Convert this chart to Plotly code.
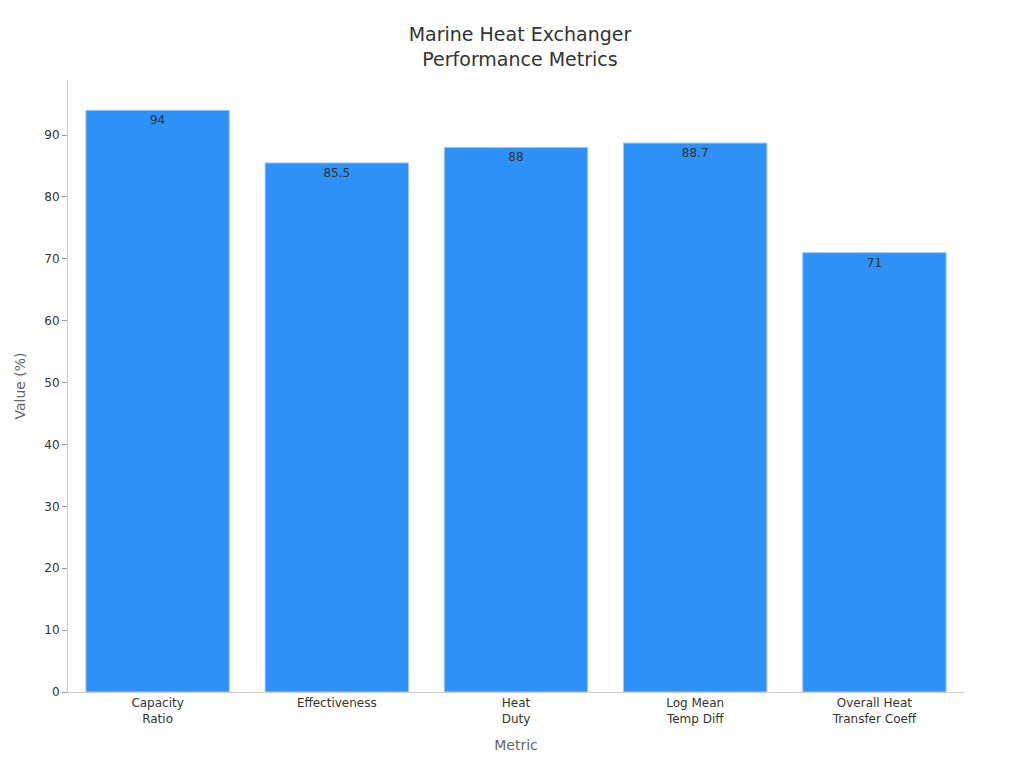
import plotly.graph_objects as go

categories = ["Capacity<br>Ratio", "Effectiveness", "Heat<br>Duty", "Log Mean<br>Temp Diff", "Overall Heat<br>Transfer Coeff"]
values = [94, 85.5, 88, 88.7, 71]
labels = ["94", "85.5", "88", "88.7", "71"]

fig = go.Figure(go.Bar(
    x=categories, y=values, text=labels, textposition="inside", insidetextanchor="end",
    textfont=dict(color="#333333", size=12),
    marker=dict(color="#2E91F7", line=dict(color="#9CC8F5", width=1)),
    width=0.8,
))
fig.update_layout(
    width=1024, height=768,
    plot_bgcolor="white", paper_bgcolor="white",
    font=dict(family="DejaVu Sans", color="#333333", size=12),
    title=dict(text="Marine Heat Exchanger<br>Performance Metrics", x=0.5, xanchor="center", y=0.957,
               font=dict(size=19, color="#333333")),
    margin=dict(l=53, r=68, t=72, b=84),
    showlegend=False,
    xaxis=dict(title=dict(text="Metric", font=dict(size=14, color="#666666")),
               showline=True, linecolor="#cccccc", ticks="", tickfont=dict(size=12)),
    yaxis=dict(title=dict(text="Value (%)", font=dict(size=14, color="#666666")),
               range=[0, 98.9], dtick=10, showgrid=False, showline=True, linecolor="#cccccc",
               ticks="outside", ticklen=5, tickcolor="#999999", zeroline=False),
)
fig.write_html("out.html")
